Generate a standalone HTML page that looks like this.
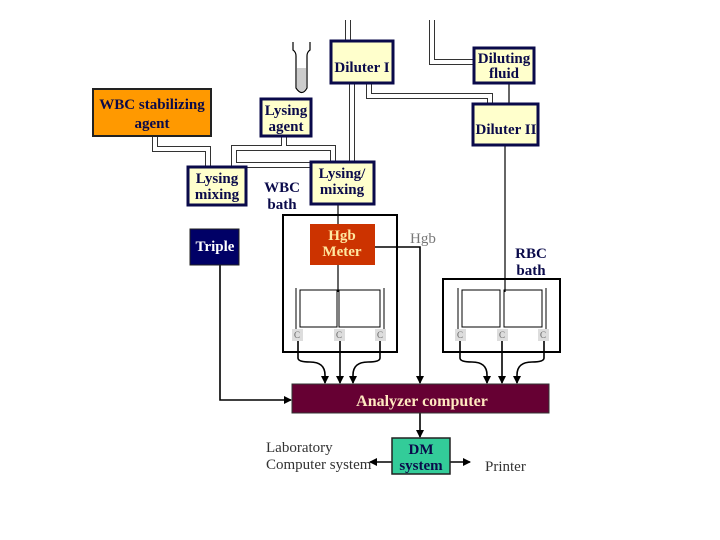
<!DOCTYPE html>
<html><head><style>
body{margin:0;background:#fff}
svg{display:block}
text{font-family:"Liberation Serif",serif;font-weight:bold}
text.n{font-weight:normal}
</style></head><body>
<svg width="720" height="540" viewBox="0 0 720 540" xmlns="http://www.w3.org/2000/svg">
<defs><marker id="a" markerWidth="8" markerHeight="8" refX="7" refY="4" orient="auto" markerUnits="userSpaceOnUse"><path d="M0,0 L8,4 L0,8 z" fill="#000"/></marker></defs>
<g fill="none" stroke="#333" stroke-width="6">
<path d="M348,20 V40 M352,83 V162"/>
<path d="M432,20 V62 H474"/>
<path d="M369,83 V96 H490 V104"/>
<path d="M155,136 V149 H208 V167"/>
<path d="M284,136 V148 H333 V162"/>
<path d="M234,167 V148 H284"/>
<path d="M234,160 V165 H311"/>
</g>
<g fill="none" stroke="#fff" stroke-width="4">
<path d="M348,20 V40 M352,83 V162"/>
<path d="M432,20 V62 H474"/>
<path d="M369,83 V96 H490 V104"/>
<path d="M155,136 V149 H208 V167"/>
<path d="M284,136 V148 H333 V162"/>
<path d="M234,167 V148 H284"/>
<path d="M234,160 V165 H311"/>
</g>
<path d="M293,42 V50 Q296,52 296,56 V88 Q302,97 307,88 V56 Q307,52 310,50 V42" fill="none" stroke="#000" stroke-width="1.2"/>
<path d="M297,68 V88 Q302,95 306,88 V68 z" fill="#ccc"/>
<g stroke="#000" stroke-width="1.2" fill="none">
<line x1="509" y1="83" x2="509" y2="104"/>
<line x1="505" y1="145" x2="505" y2="292"/>
<line x1="338" y1="204" x2="338" y2="225"/>
<line x1="338" y1="265" x2="338" y2="292"/>
</g>
<g stroke="#000" stroke-width="1.6" fill="none">
<path d="M375,247 H420 V383" marker-end="url(#a)"/>
<path d="M220,265 V400 H291" marker-end="url(#a)"/>
<path d="M298,340 V358 Q298,362 310,362 Q325,362 325,375 V383" marker-end="url(#a)"/>
<path d="M340,340 V383" marker-end="url(#a)"/>
<path d="M380,340 V358 Q380,362 368,362 Q353,362 353,375 V383" marker-end="url(#a)"/>
<path d="M460,340 V358 Q460,362 472,362 Q487,362 487,375 V383" marker-end="url(#a)"/>
<path d="M502,340 V383" marker-end="url(#a)"/>
<path d="M544,340 V358 Q544,362 532,362 Q517,362 517,375 V383" marker-end="url(#a)"/>
<path d="M420,413 V437" marker-end="url(#a)"/>
<path d="M392,462 H370" marker-end="url(#a)"/>
<path d="M450,462 H470" marker-end="url(#a)"/>
</g>
<rect x="283" y="215" width="114" height="137" fill="none" stroke="#000" stroke-width="2"/>
<rect x="443" y="279" width="117" height="73" fill="none" stroke="#000" stroke-width="2"/>
<g stroke="#000" stroke-width="1" fill="none">
<rect x="300" y="290" width="37" height="37"/><rect x="339" y="290" width="41" height="37"/>
<line x1="296" y1="288" x2="296" y2="330"/><line x1="384" y1="288" x2="384" y2="330"/>
<rect x="462" y="290" width="38" height="37"/><rect x="504" y="290" width="38" height="37"/>
<line x1="458" y1="288" x2="458" y2="330"/><line x1="546" y1="288" x2="546" y2="330"/>
</g>
<g fill="#ddd"><rect x="292" y="329" width="11" height="12"/><rect x="334" y="329" width="11" height="12"/><rect x="375" y="329" width="11" height="12"/>
<rect x="455" y="329" width="11" height="12"/><rect x="497" y="329" width="11" height="12"/><rect x="538" y="329" width="11" height="12"/></g>
<g font-size="9" fill="#666" text-anchor="middle"><text class="n" x="297" y="338">C</text><text class="n" x="339" y="338">C</text><text class="n" x="380" y="338">C</text><text class="n" x="460" y="338">C</text><text class="n" x="502" y="338">C</text><text class="n" x="543" y="338">C</text></g>
<g stroke="#0a0a4a" stroke-width="3" fill="#ffffcc">
<rect x="331" y="41" width="62" height="42"/>
<rect x="474" y="48" width="60" height="35"/>
<rect x="473" y="104" width="65" height="41"/>
<rect x="261" y="99" width="50" height="37"/>
<rect x="188" y="167" width="58" height="38"/>
<rect x="311" y="162" width="63" height="42"/>
</g>
<rect x="93" y="89" width="118" height="47" fill="#ff9900" stroke="#222" stroke-width="2"/>
<rect x="190" y="229" width="49" height="36" fill="#000066" stroke="#222"/>
<rect x="310" y="224" width="65" height="41" fill="#cc3300"/>
<rect x="292" y="384" width="257" height="29" fill="#660033" stroke="#333"/>
<rect x="392" y="438" width="58" height="36" fill="#33cc99" stroke="#222" stroke-width="1.5"/>
<g font-size="15" text-anchor="middle" fill="#0a0a4a">
<text x="362" y="72">Diluter I</text>
<text x="504" y="63">Diluting</text><text x="504" y="78">fluid</text>
<text x="506" y="134">Diluter II</text>
<text x="286" y="115">Lysing</text><text x="286" y="131">agent</text>
<text x="217" y="183">Lysing</text><text x="217" y="199">mixing</text>
<text x="342" y="178">Lysing/</text><text x="342" y="194">mixing</text>
<text x="152" y="109">WBC stabilizing</text><text x="152" y="128">agent</text>
<text x="282" y="192">WBC</text><text x="282" y="209">bath</text>
<text x="531" y="258">RBC</text><text x="531" y="275">bath</text>
</g>
<g font-size="15" text-anchor="middle">
<text x="215" y="251" fill="#fff">Triple</text>
<text x="342" y="240" fill="#ffe8a0">Hgb</text><text x="342" y="256" fill="#ffe8a0">Meter</text>
<text x="422" y="406" fill="#ffe8c0" font-size="16">Analyzer computer</text>
<text x="421" y="454" fill="#0a0a4a">DM</text><text x="421" y="470" fill="#0a0a4a">system</text>
</g>
<g font-size="15" fill="#333">
<text class="n" x="410" y="243" fill="#777">Hgb</text>
<text class="n" x="266" y="452">Laboratory</text><text class="n" x="266" y="469">Computer system</text>
<text class="n" x="485" y="471">Printer</text>
</g>
</svg>
</body></html>
